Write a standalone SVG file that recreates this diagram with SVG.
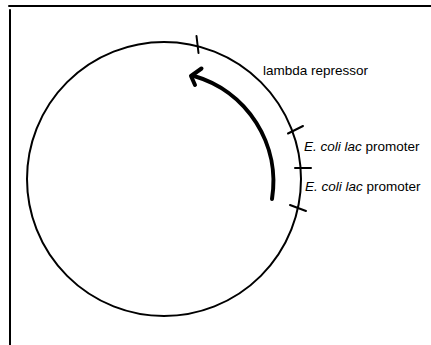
<svg xmlns="http://www.w3.org/2000/svg" width="431" height="345" viewBox="0 0 431 345">
<style>
.line{fill:none;stroke:#000;stroke-width:2;stroke-linecap:round}
.arrow{fill:none;stroke:#000;stroke-width:4;stroke-linecap:round;stroke-linejoin:round}
.lbl{font-family:"Liberation Sans",Arial,sans-serif;font-size:13.5px;fill:#000}
</style>
<rect width="431" height="345" fill="#fff"/>
<g id="frame">
<line class="line" x1="9" y1="6" x2="431" y2="6"/>
<line class="line" x1="10" y1="10" x2="10" y2="345"/>
</g>
<g id="plasmid">
<circle class="line" cx="164" cy="179" r="137"/>
</g>
<g id="connectors">
<line class="line" x1="196.5" y1="36" x2="198.5" y2="53"/>
<line class="line" x1="288" y1="133.5" x2="303" y2="126"/>
<line class="line" x1="295" y1="168" x2="311" y2="168"/>
<line class="line" x1="290" y1="205" x2="306" y2="211"/>
<path class="arrow" d="M272,199 A110,110 0 0 0 194,76"/>
<path class="arrow" d="M201.5,68.5 L191,76 L195,85"/>
</g>
<g id="lambda">
<text class="lbl" x="263" y="75">lambda repressor</text>
</g>
<g id="lac1">
<text class="lbl" x="304" y="151"><tspan font-style="italic">E. coli lac</tspan> promoter</text>
</g>
<g id="lac2">
<text class="lbl" x="305" y="191"><tspan font-style="italic">E. coli lac</tspan> promoter</text>
</g>
</svg>
